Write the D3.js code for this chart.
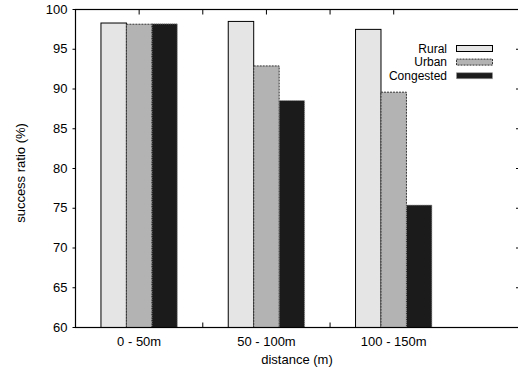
<!DOCTYPE html>
<html><head><meta charset="utf-8">
<script src="https://cdn.jsdelivr.net/npm/d3@7"></script>
<style>
body{margin:0;background:#fff;}
svg{display:block;font-family:"Liberation Sans",Arial,Helvetica,sans-serif;}
</style></head>
<body><svg id="c" width="518" height="374"></svg>
<script>
const categories = ["0 - 50m", "50 - 100m", "100 - 150m"];
const seriesNames = ["Rural", "Urban", "Congested"];
const rural = [98.3, 98.5, 97.5];
const urban = [98.15, 92.9, 89.6];
const congested = [98.2, 88.55, 75.4];
const yTicks = [60, 65, 70, 75, 80, 85, 90, 95, 100];

const series = [rural, urban, congested];
const styles = [
  {fill:"#e5e5e5", stroke:"#000", dash:null},
  {fill:"#b3b3b3", stroke:"#333", dash:"2,1"},
  {fill:"#1b1b1b", stroke:"#999", dash:"1,1"}
];
const FONT = "'Liberation Sans',Arial,sans-serif";

const svg = d3.select("#c");
const L = 75, R = 520.5, T = 9, B = 327;
const x = d3.scaleLinear().domain([-0.5, 3.0]).range([L, R]);
const y = d3.scaleLinear().domain([60, 100]).range([B, T]);
const bw = 0.2;

// bars
series.forEach((vals, s) => {
  svg.append("g").selectAll("rect").data(vals).join("rect")
    .attr("x", (d, i) => x(i + (s - 1) * bw - bw / 2) + 0.5)
    .attr("width", x(bw) - x(0))
    .attr("y", d => y(d) + 0.5)
    .attr("height", d => y(60) - y(d))
    .attr("fill", styles[s].fill)
    .attr("stroke", styles[s].stroke)
    .attr("stroke-width", 1)
    .attr("stroke-dasharray", styles[s].dash);
});

// border
svg.append("rect").attr("x", L + 0.5).attr("y", T + 0.5)
  .attr("width", R - L).attr("height", B - T)
  .attr("fill", "none").attr("stroke", "#000").attr("stroke-width", 1.2);

// left axis (outward ticks)
const yl = svg.append("g").attr("transform", `translate(${L + 0.5},0)`)
  .call(d3.axisLeft(y).tickValues(yTicks).tickSize(3).tickPadding(5));
yl.select(".domain").remove();
yl.selectAll("text").attr("font-size", "13px").attr("fill", "#000").attr("font-family", FONT);

// right axis inward ticks
const yr = svg.append("g").attr("transform", `translate(${R + 0.5},0)`)
  .call(d3.axisLeft(y).tickValues(yTicks.slice(1, -1)).tickSize(5).tickFormat(""));
yr.select(".domain").remove();

// bottom axis labels + inward minor ticks
const xb = svg.append("g").attr("transform", `translate(0,${B + 0.5})`)
  .call(d3.axisBottom(x).tickValues([0, 1, 2]).tickFormat(i => categories[i]).tickSize(0).tickPadding(9));
xb.select(".domain").remove();
xb.selectAll("text").attr("font-size", "13px").attr("fill", "#000").attr("font-family", FONT);
const xbt = svg.append("g").attr("transform", `translate(0,${B + 0.5})`)
  .call(d3.axisTop(x).tickValues([0.5, 1.5]).tickSize(5).tickFormat(""));
xbt.select(".domain").remove();

// top inward ticks
const xt = svg.append("g").attr("transform", `translate(0,${T + 0.5})`)
  .call(d3.axisBottom(x).tickValues([0, 0.5, 1, 1.5, 2]).tickSize(5).tickFormat(""));
xt.select(".domain").remove();

// axis titles
svg.append("text").attr("x", 297).attr("y", 364).attr("text-anchor", "middle")
  .attr("font-size", "13px").text("distance (m)");
svg.append("text").attr("transform", "translate(25,173) rotate(-90)")
  .attr("text-anchor", "middle").attr("font-size", "13px").text("success ratio (%)");

// legend
const lg = svg.append("g");
seriesNames.forEach((n, s) => {
  const cy = 48.5 + s * 13.6;
  lg.append("text").attr("x", 447).attr("y", cy + 4.3).attr("text-anchor", "end")
    .attr("font-size", "12px").text(n);
  lg.append("rect").attr("x", 456.5).attr("y", cy - 3).attr("width", 36).attr("height", 6)
    .attr("fill", styles[s].fill).attr("stroke", styles[s].stroke)
    .attr("stroke-dasharray", styles[s].dash);
});
</script></body></html>
